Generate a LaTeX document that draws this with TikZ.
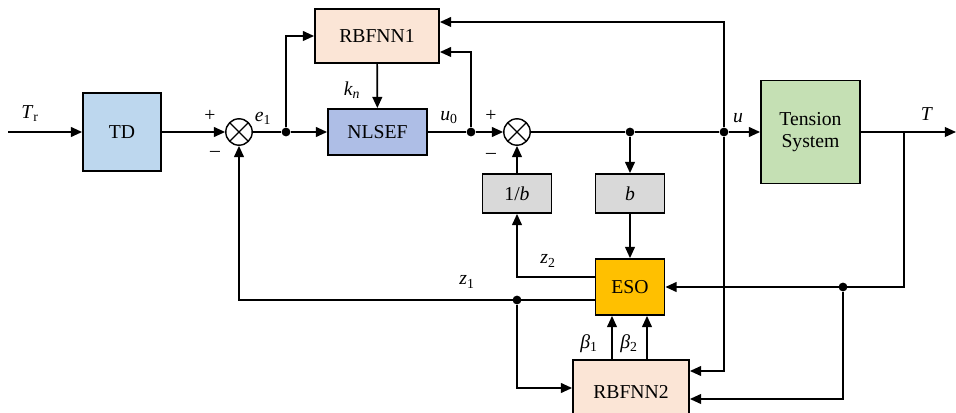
\documentclass[tikz,border=0pt]{standalone}
\usepackage{fontspec}
\setmainfont{Liberation Serif}
\usetikzlibrary{arrows.meta,calc}

\definecolor{tdblue}{HTML}{BDD7EE}
\definecolor{nlblue}{HTML}{AEBEE6}
\definecolor{rbfpeach}{HTML}{FBE5D6}
\definecolor{plantgreen}{HTML}{C5E0B4}
\definecolor{esoyellow}{HTML}{FFC000}
\definecolor{gaingray}{HTML}{D9D9D9}

\tikzset{
  block/.style={draw, line width=1.3pt, inner sep=0pt, align=center},
  sumnode/.style={draw, circle, line width=1pt, minimum size=0.66cm, inner sep=0pt,
    path picture={\draw[line width=1pt] (path picture bounding box.north west) -- (path picture bounding box.south east)
      (path picture bounding box.north east) -- (path picture bounding box.south west);}},
  junction/.style={circle, fill, inner sep=0pt, minimum size=0.22cm},
  sig/.style={line width=1.2pt},
}

\begin{document}
\begin{tikzpicture}[x=0.025cm, y=-0.025cm, >={Triangle[length=8pt,width=7pt]},
    font=\fontsize{14}{16}\selectfont]
      \useasboundingbox (0,0) rectangle (956,413);
      \clip (0,0) rectangle (956,413);

      % Blocks
      \node[block, fill=tdblue, minimum width=1.95cm, minimum height=1.95cm] (TD) at (122,132) {TD};
      \node[sumnode] (sum1) at (239,132) {};
      \node[block, fill=nlblue, minimum width=2.475cm, minimum height=1.15cm] (NLSEF) at (377.5,132) {NLSEF};
      \node[block, fill=rbfpeach, minimum width=3.1cm, minimum height=1.35cm] (RBFNN1) at (377,36) {RBFNN1};
      \node[sumnode] (sum2) at (517,132) {};
      \node[block, fill=plantgreen, minimum width=2.475cm, minimum height=2.575cm] (plant) at (810.5,132) {Tension\\System};
      \node[block, fill=gaingray, minimum width=1.725cm, minimum height=0.975cm] (invb) at (517,193.5) {1/\textit{b}};
      \node[block, fill=gaingray, minimum width=1.725cm, minimum height=0.975cm] (gainb) at (630,193.5) {\textit{b}};
      \node[block, fill=esoyellow, minimum width=1.725cm, minimum height=1.4cm] (ESO) at (630,287) {ESO};
      \node[block, fill=rbfpeach, minimum width=2.9cm, minimum height=1.6cm] (RBFNN2) at (631,392) {RBFNN2};

      % Junctions
      \node[junction] (e1dot) at (286,132) {};
      \node[junction] (u0dot) at (471,132) {};
      \node[junction] (bdot) at (630,132) {};
      \node[junction] (udot) at (724,132) {};
      \node[junction] (z1dot) at (517,300) {};
      \node[junction] (Tdot) at (843,287) {};
      \coordinate (Tin) at (8,132);
      \coordinate (Tsplit) at (904,132);
      \coordinate (Tout) at (956,132);

      % Forward path
      \draw[sig,->] (Tin) -- (TD);
      \draw[sig,->] (TD) -- (sum1);
      \draw[sig] (sum1) -- (e1dot);
      \draw[sig,->] (e1dot) -- (NLSEF);
      \draw[sig,->] (e1dot) |- (RBFNN1.west);
      \draw[sig,->] (RBFNN1) -- (NLSEF);
      \draw[sig] (NLSEF) -- (u0dot);
      \draw[sig,->] (u0dot) |- (RBFNN1.east |- 0,52);
      \draw[sig,->] (u0dot) -- (sum2);
      \draw[sig] (sum2) -- (bdot) -- (udot);
      \draw[sig,->] (udot) -- (plant);
      \draw[sig,->] (udot) |- (RBFNN1.east |- 0,22);
      \draw[sig,->] (udot) |- (RBFNN2.east |- 0,371);
      \draw[sig] (plant) -- (Tsplit);
      \draw[sig,->] (Tsplit) -- (Tout);

      % Observer loop
      \draw[sig,->] (bdot) -- (gainb);
      \draw[sig,->] (gainb) -- (ESO);
      \draw[sig,->] (invb) -- (sum2);
      \draw[sig,->] (ESO.west |- 0,277) -| (invb.south);
      \draw[sig,->] (ESO.west |- 0,300) -| (sum1.south);
      \draw[sig,->] (z1dot) |- (RBFNN2.west |- 0,388);
      \draw[sig,->] (Tsplit) |- (ESO.east);
      \draw[sig,->] (Tdot) |- (RBFNN2.east |- 0,399);
      \draw[sig,->] (RBFNN2.north -| 612,0) -- (ESO.south -| 612,0);
      \draw[sig,->] (RBFNN2.north -| 647,0) -- (ESO.south -| 647,0);

      % Labels
      \node (lblTr) at (30,114) {\textit{T}\textsubscript{r}};
      \node (lblp1) at (210,116) {+};
      \node (lblm1) at (215,154) {\textendash};
      \node (lble1) at (263,118) {\textit{e}\textsubscript{1}};
      \node (lblkn) at (352,90) {\textit{k\textsubscript{n}}};
      \node (lblu0) at (449,118) {\textit{u}\textsubscript{0}};
      \node (lblp2) at (491,116) {+};
      \node (lblm2) at (491,156) {\textendash};
      \node (lblu) at (738,118) {\textit{u}};
      \node (lblT) at (927,114) {\textit{T}};
      \node (lblz2) at (548,261) {\textit{z}\textsubscript{2}};
      \node (lblz1) at (467,282) {\textit{z}\textsubscript{1}};
      \node (lblb1) at (589,344) {\textit{β}\textsubscript{1}};
      \node (lblb2) at (629,344) {\textit{β}\textsubscript{2}};
    \end{tikzpicture}
\end{document}
